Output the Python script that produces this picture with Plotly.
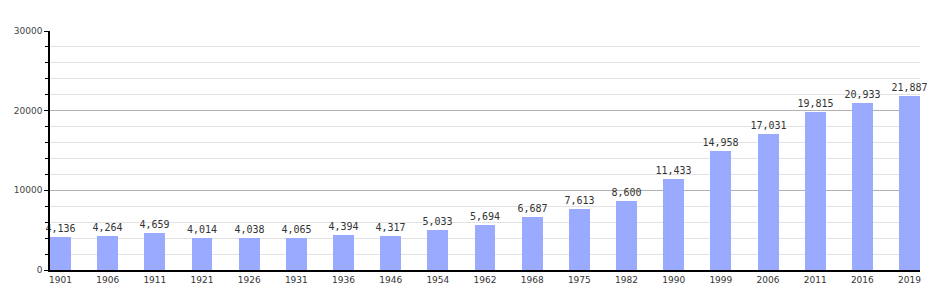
import plotly.graph_objects as go

years = ["1901", "1906", "1911", "1921", "1926", "1931", "1936", "1946", "1954", "1962",
         "1968", "1975", "1982", "1990", "1999", "2006", "2011", "2016", "2019"]
population = [4136, 4264, 4659, 4014, 4038, 4065, 4394, 4317, 5033, 5694,
              6687, 7613, 8600, 11433, 14958, 17031, 19815, 20933, 21887]
y_ticks = [0, 10000, 20000, 30000]

x_pos = list(range(len(years)))

fig = go.Figure()
fig.add_trace(go.Bar(
    x=x_pos, y=population, width=0.445,
    marker=dict(color="#9aabff", line=dict(width=0)),
    texttemplate="%{y:,}", textposition="outside",
    constraintext="none",
    textfont=dict(family="DejaVu Sans Mono", size=10, color="#333333"),
    cliponaxis=False,
))

fig.update_layout(
    width=950, height=300,
    margin=dict(l=50, r=30, t=31, b=30),
    plot_bgcolor="white", paper_bgcolor="white",
    showlegend=False,
    bargap=0,
)
fig.update_xaxes(
    range=[-0.2225, len(years) - 1 + 0.2225],
    tickmode="array", tickvals=x_pos, ticktext=years,
    showgrid=False, zeroline=False,
    showline=True, linecolor="black", linewidth=1.5,
    ticks="", tickfont=dict(family="DejaVu Sans", size=9, color="#333333"),
)
fig.update_yaxes(
    range=[0, 30000],
    tickmode="array", tickvals=y_ticks, ticktext=[str(v) for v in y_ticks],
    showgrid=True, gridcolor="#b0b0b0", gridwidth=1,
    zeroline=False,
    showline=True, linecolor="black", linewidth=1.5,
    ticks="outside", ticklen=4, tickcolor="black",
    tickfont=dict(family="DejaVu Sans", size=9, color="#444444"),
    minor=dict(dtick=2000, showgrid=True, gridcolor="#e2e2e2", gridwidth=1,
               ticks="outside", ticklen=3, tickcolor="black"),
)

fig.write_html("out.html")
